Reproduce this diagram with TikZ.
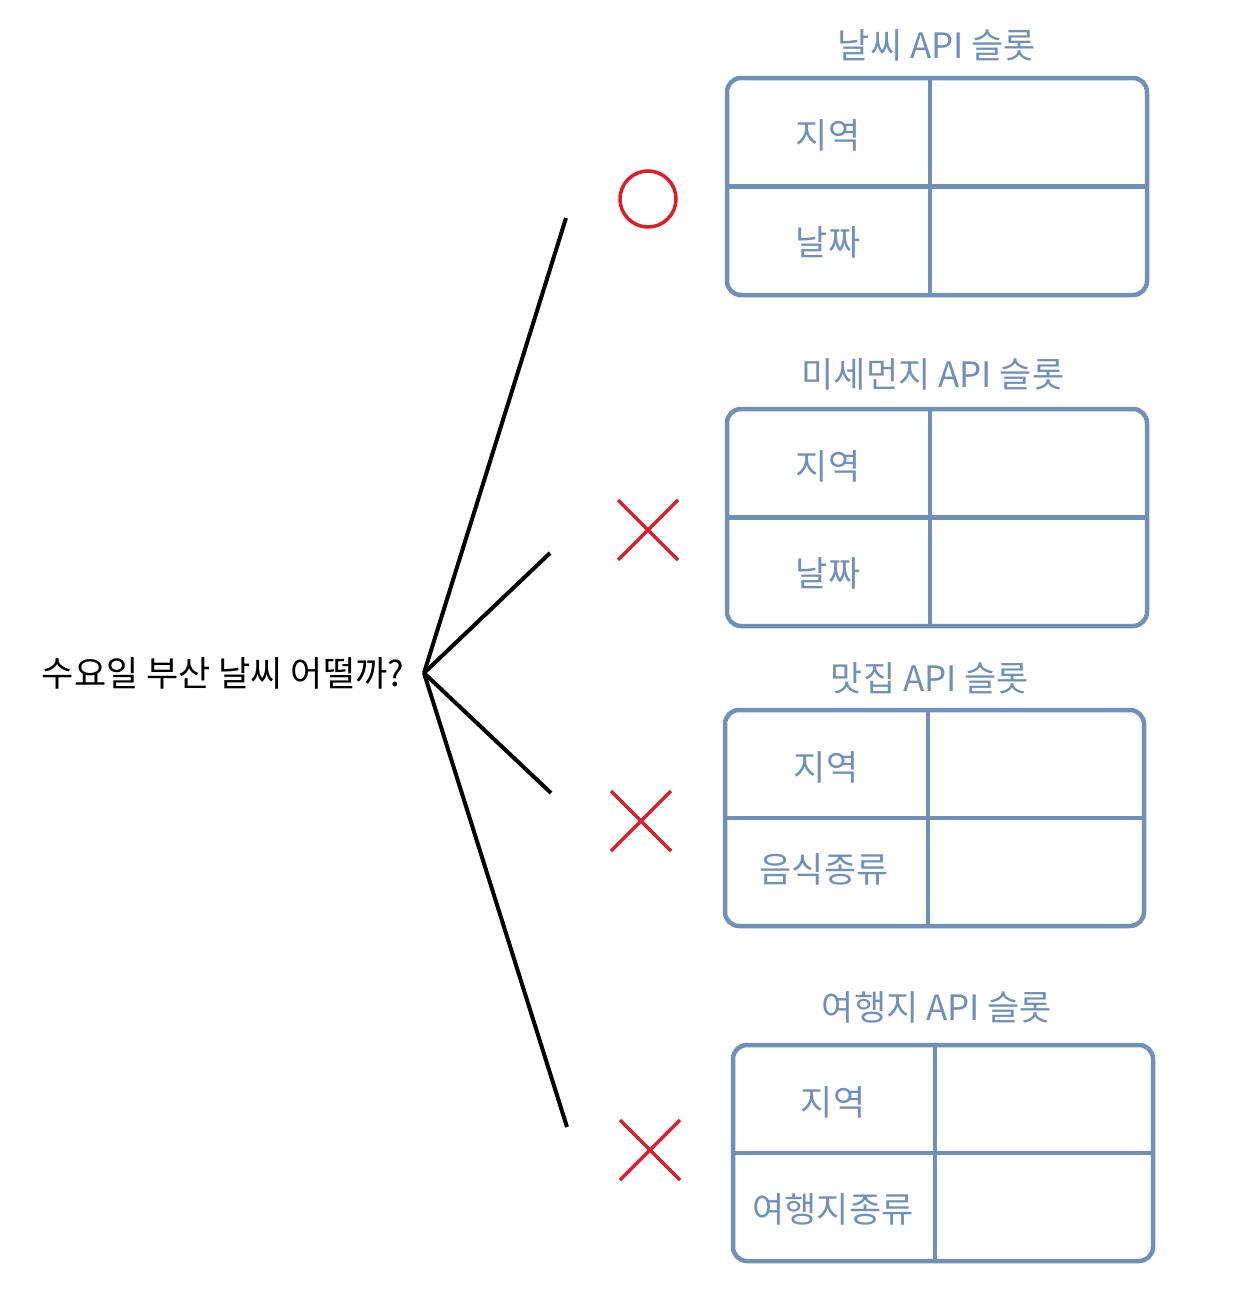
\documentclass[tikz,border=0pt]{standalone}
\usepackage{fontspec}
\setmainfont{Noto Sans CJK KR}
\definecolor{slotblue}{RGB}{112,144,186}
\definecolor{markred}{RGB}{220,30,40}
\tikzset{
  slot/.style={draw=slotblue,line width=4.5pt,rounded corners=14pt},
  rule/.style={draw=slotblue,line width=4.5pt},
  slottxt/.style={text=slotblue,font=\fontsize{35}{40}\selectfont,inner sep=0pt},
  branch/.style={line width=4pt,black},
  okno/.style={draw=markred,line width=3.5pt}
}
\newcommand{\apislot}[6]{% x1,y1,x2,y2,div,name
  \draw[slot] (#1,#2) rectangle (#3,#4);
  \draw[rule] (#5,#2) -- (#5,#4);
  \draw[rule] (#1,{(#2+#4)/2}) -- (#3,{(#2+#4)/2});
}
\begin{document}
\begin{tikzpicture}[x=1pt,y=-1pt]
\useasboundingbox (0,0) rectangle (1240,1314);

% question
\node[font=\fontsize{35}{40}\selectfont,inner sep=0pt] (q) at (223,673) {수요일 부산 날씨 어떨까?};
\coordinate (root) at (424,673);
\coordinate (b1) at (566,218);
\coordinate (b2) at (550,553);
\coordinate (b3) at (551,793);
\coordinate (b4) at (567,1127);
\foreach \b in {b1,b2,b3,b4}
  \draw[branch] (root) -- (\b);

% marks
\draw[okno] (648,199) circle (28);
\foreach \mx/\my in {648/530,641/821,650/1150}
  \draw[okno] (\mx-30,\my-30) -- (\mx+30,\my+30) (\mx-30,\my+30) -- (\mx+30,\my-30);

% slots
\apislot{727}{78}{1147}{295}{930}{w}
\node[slottxt] (wt) at (937,45) {날씨 API 슬롯};
\node[slottxt] (w1) at (828,135) {지역};
\node[slottxt] (w2) at (828,242) {날짜};

\apislot{727}{409}{1147}{626}{930}{d}
\node[slottxt] (dt) at (933,374) {미세먼지 API 슬롯};
\node[slottxt] (d1) at (828,466) {지역};
\node[slottxt] (d2) at (828,573) {날짜};

\apislot{725}{710}{1144}{926}{928}{f}
\node[slottxt] (ft) at (930,678) {맛집 API 슬롯};
\node[slottxt] (f1) at (826,767) {지역};
\node[slottxt] (f2) at (824,869) {음식종류};

\apislot{733}{1045}{1153}{1261}{935}{t}
\node[slottxt] (tt) at (937,1007) {여행지 API 슬롯};
\node[slottxt] (t1) at (833,1102) {지역};
\node[slottxt] (t2) at (833,1209) {여행지종류};
\end{tikzpicture}
\end{document}
